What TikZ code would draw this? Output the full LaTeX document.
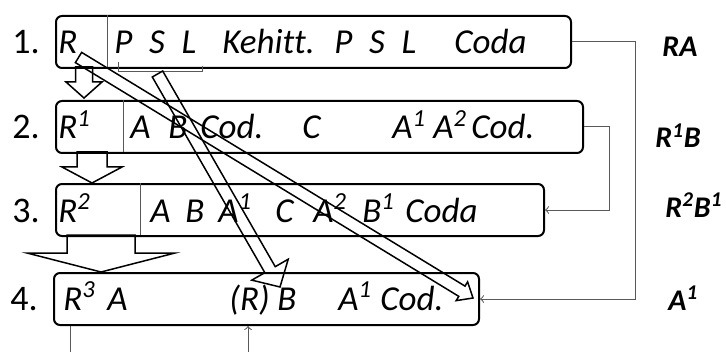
\documentclass[tikz,border=0pt]{standalone}
\usepackage{fontspec}
\setmainfont{Carlito}[Ligatures=NoCommon]
\usetikzlibrary{calc,positioning}

\tikzset{
	rowbox/.style={draw, line width=1pt, rounded corners=3pt, anchor=north west, inner sep=0pt, minimum height=26pt},
	txt/.style={anchor=base west, inner sep=0pt, font=\fontsize{17.5}{20}\selectfont\itshape},
	num/.style={anchor=base west, inner sep=0pt, font=\fontsize{18}{20}\selectfont},
	res/.style={anchor=base west, inner sep=0pt, font=\fontsize{15}{17}\selectfont\bfseries\itshape},
	thinline/.style={draw=black!65, line width=0.5pt},
	fat/.style={draw, line width=0.75pt, line join=miter},
}

% block arrow: from, to, half shaft, half head, head length
\newcommand{\blockarrow}[5]{%
	\coordinate (hb) at ($(#2)!#5!(#1)$);
	\draw[fat] ($(#1)!#3!90:(#2)$) -- ($(hb)!#3!90:(#2)$) -- ($(hb)!#4!90:(#2)$) -- (#2)
	-- ($(hb)!#4!-90:(#2)$) -- ($(hb)!#3!-90:(#2)$) -- ($(#1)!#3!-90:(#2)$) -- cycle;
}

\begin{document}
\begin{tikzpicture}[x=0.5pt,y=-0.5pt]
	\useasboundingbox (0,0) rectangle (726,352);
	
	% the four rows
	\node[rowbox, minimum width=257.5pt] (row1) at (55,15) {};
	\node[rowbox, minimum width=263.5pt] (row2) at (55,100) {};
	\node[rowbox, minimum width=244pt] (row3) at (55,183) {};
	\node[rowbox, minimum width=212.5pt] (row4) at (53,272) {};
	
	\draw[thinline] (107,15) -- (107,67);
	\draw[thinline] (123,100) -- (123,152);
	\draw[thinline] (140,183) -- (140,235);
	
	% row 1
	\node[num] (n1) at (12,54) {1.};
	\node[txt] (r1a) at (58,54) {R};
	\node[txt] (r1b) at (114,54) {P\hspace{0.25em} S\hspace{0.25em} L};
	\node[txt] (r1c) at (222,54) {Kehitt.};
	\node[txt] (r1d) at (334,54) {P\hspace{0.25em} S\hspace{0.25em} L};
	\node[txt] (r1e) at (454,54) {Coda};
	
	% row 2
	\node[num] (n2) at (12,139) {2.};
	\node[txt] (r2a) at (58,139) {R\textsuperscript{1}};
	\node[txt] (r2b) at (130,139) {A};
	\node[txt] (r2c) at (168,139) {B};
	\node[txt] (r2d) at (200,139) {Cod.};
	\node[txt] (r2e) at (302,139) {C};
	\node[txt] (r2f) at (392,139) {A\textsuperscript{1}};
	\node[txt] (r2g) at (433,139) {A\textsuperscript{2}};
	\node[txt] (r2h) at (471,139) {Cod.};
	
	% row 3
	\node[num] (n3) at (12,222) {3.};
	\node[txt] (r3a) at (58,222) {R\textsuperscript{2}};
	\node[txt] (r3b) at (150,222) {A};
	\node[txt] (r3c) at (185,222) {B};
	\node[txt] (r3d) at (218,222) {A\textsuperscript{1}};
	\node[txt] (r3e) at (275,222) {C};
	\node[txt] (r3f) at (313,222) {A\textsuperscript{2}};
	\node[txt] (r3g) at (362,222) {B\textsuperscript{1}};
	\node[txt] (r3h) at (405,222) {Coda};
	
	% row 4
	\node[num] (n4) at (10,310) {4.};
	\node[txt] (r4a) at (63,310) {R\textsuperscript{3}};
	\node[txt] (r4b) at (107,310) {A};
	\node[txt] (r4c) at (229,310) {(R)};
	\node[txt] (r4d) at (277,310) {B};
	\node[txt] (r4e) at (338,310) {A\textsuperscript{1}};
	\node[txt] (r4f) at (380,310) {Cod.};
	
	% results
	\node[res] (ra) at (662,57) {RA};
	\node[res] (rb) at (655,148) {R\textsuperscript{1}B};
	\node[res] (rc) at (665,217) {R\textsuperscript{2}B\textsuperscript{1}};
	\node[res] (rd) at (668,310) {A\textsuperscript{1}};
	
	% thin connectors
	\coordinate (bendA) at (635,0);
	\coordinate (bendB) at (609,0);
	\draw[thinline,->] (row1.east) -- (row1.east -| bendA) |- (row4.east);
	\draw[thinline,->] (row2.east) -- (row2.east -| bendB) |- (row3.east);
	\draw[thinline] (118,62) -- (118,72) -- (202,72) -- (202,66);
	
	\coordinate (foot1) at (70,352);
	\coordinate (foot2) at (248,352);
	\draw[thinline] (foot1) -- (foot1 |- row4.south);
	\draw[thinline,->] (foot2) -- (foot2 |- row4.south);
	
	% block arrows
	\coordinate (dA0) at (84,67);   \coordinate (dA1) at (84,98);
	\coordinate (dB0) at (92,152);  \coordinate (dB1) at (92,183);
	\coordinate (dC0) at (101,235); \coordinate (dC1) at (101,272);
	\blockarrow{dA0}{dA1}{4.25pt}{9pt}{8pt}
	\blockarrow{dB0}{dB1}{7.5pt}{15pt}{8pt}
	\blockarrow{dC0}{dC1}{17pt}{37pt}{9.5pt}
	
	\coordinate (gA0) at (78.5,57.5); \coordinate (gA1) at (473,298);
	\coordinate (gB0) at (157.5,74);  \coordinate (gB1) at (280,287);
	\blockarrow{gA0}{gA1}{3pt}{5.5pt}{6.5pt}
	\blockarrow{gB0}{gB1}{3pt}{10.5pt}{10pt}
	
\end{tikzpicture}
\end{document}
